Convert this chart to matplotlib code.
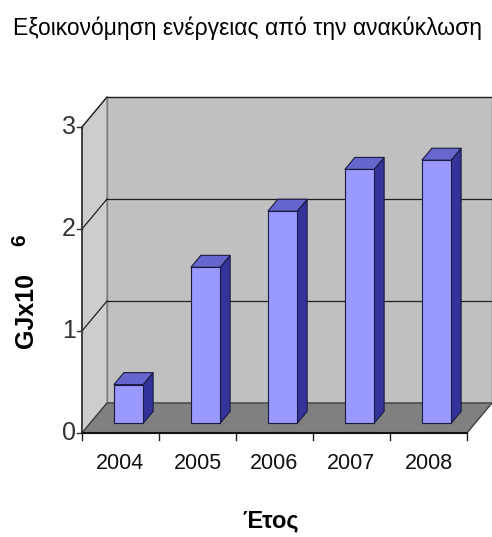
import matplotlib
matplotlib.use("Agg")
import matplotlib.pyplot as plt

# Data
years = ["2004", "2005", "2006", "2007", "2008"]
energy_savings = [0.38, 1.53, 2.08, 2.49, 2.58]
y_ticks = [0, 1, 2, 3]

title = "Εξοικονόμηση ενέργειας από την ανακύκλωση"
x_label = "Έτος"
y_label = "GJx10"
y_label_exp = "6"

FONT = ["Liberation Sans Narrow", "Liberation Sans", "DejaVu Sans"]
plt.rcParams["font.family"] = FONT

# Oblique 3-D look: depth offset in data units
DX, DY = 0.325, 0.294
F0, F1 = 0.32, 0.72          # bar front/back depth fraction
BAR_W = 0.38
VMAX = 3

fig = plt.figure(figsize=(4.92, 5.37), dpi=100)
ax = fig.add_axes([0, 0, 1, 1])
ax.set_xlim(-1.565, 4.825)
ax.set_ylim(-1.02, 4.245)
ax.axis("off")

n = len(years)
x0, x1 = -0.5, n - 0.5

# Walls and floor
ax.fill([x0 + DX, x1 + DX, x1 + DX, x0 + DX],
        [DY, DY, VMAX + DY, VMAX + DY],
        color="#c0c0c0", ec="#808080", lw=1, zorder=1)
ax.fill([x0, x0 + DX, x0 + DX, x0],
        [0, DY, VMAX + DY, VMAX],
        color="#cdcdcd", ec="#808080", lw=1, zorder=1)
ax.fill([x0, x1, x1 + DX, x0 + DX],
        [0, 0, DY, DY],
        color="#808080", ec="#404040", lw=1, zorder=2)

# Gridlines on back and side walls
for v in y_ticks[1:]:
    ax.plot([x0 + DX, x1 + DX], [v + DY, v + DY], color="#202020", lw=0.9, zorder=1.5)
    ax.plot([x0, x0 + DX], [v, v + DY], color="#202020", lw=0.9, zorder=1.5)

# Bars: front faces via bar(), side and top faces from the same values
xs = list(range(n))
fronts = ax.bar([x + F0 * DX for x in xs], energy_savings, width=BAR_W,
                bottom=F0 * DY, color="#9999ff", edgecolor="#1a1a40",
                linewidth=0.8, zorder=4)
ddx, ddy = (F1 - F0) * DX, (F1 - F0) * DY
for x, v in zip(xs, energy_savings):
    xl = x + F0 * DX - BAR_W / 2
    xr = xl + BAR_W
    yb = F0 * DY
    yt = v + F0 * DY
    ax.fill([xr, xr + ddx, xr + ddx, xr], [yb, yb + ddy, yt + ddy, yt],
            color="#333399", ec="#1a1a40", lw=0.8, zorder=3)
    ax.fill([xl, xr, xr + ddx, xl + ddx], [yt, yt, yt + ddy, yt + ddy],
            color="#6666cc", ec="#1a1a40", lw=0.8, zorder=3)

# Front axes
ax.plot([x0, x0], [0, VMAX], color="#303030", lw=1.2, zorder=5)
ax.plot([x0, x1], [0, 0], color="#101010", lw=1.5, zorder=5)
for v in y_ticks:
    ax.plot([x0 - 0.06, x0], [v, v], color="#303030", lw=1, zorder=5)
    ax.text(x0 - 0.08, v, str(v), ha="right", va="center",
            fontsize=18, color="#333333")
for b in range(n + 1):
    ax.plot([x0 + b, x0 + b], [0, -0.07], color="#202020", lw=1, zorder=5)
for x, lab in zip(xs, years):
    ax.text(x, -0.30, lab, ha="center", va="center", fontsize=15.5, color="#111111")

# Titles
fig.text(247 / 492, 1 - 28 / 537, title, ha="center", va="center",
         fontsize=16.5, color="#000000")
fig.text(271 / 492, 1 - 521 / 537, x_label, ha="center", va="center",
         fontsize=17, fontweight="bold", color="#000000")
fig.text(26 / 492, 1 - 310 / 537, y_label, ha="center", va="center",
         rotation=90, fontsize=18, fontweight="bold", color="#000000")
fig.text(20 / 492, 1 - 240 / 537, y_label_exp, ha="center", va="center",
         rotation=90, fontsize=15, fontweight="bold", color="#000000")

fig.savefig("out.png", dpi=100)
